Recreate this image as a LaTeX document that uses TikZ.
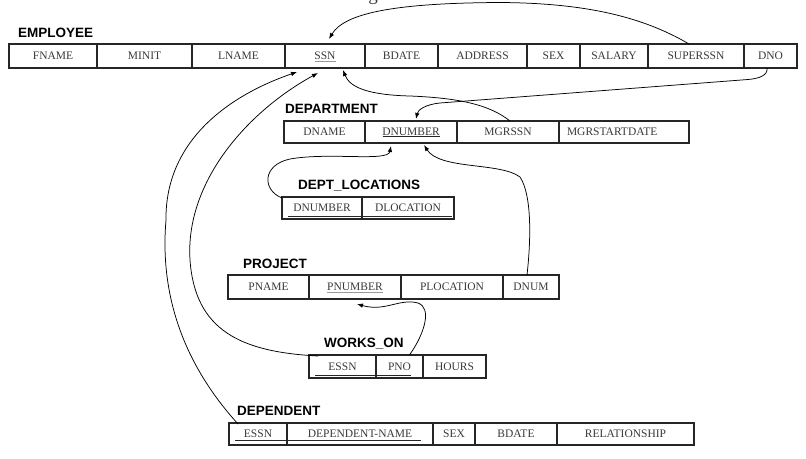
\documentclass[tikz,border=0pt]{standalone}
\usepackage{fontspec}
\setmainfont{Liberation Serif}
\newfontfamily\tabfont{Liberation Sans}
\usetikzlibrary{arrows.meta,calc}
\definecolor{fieldtxt}{HTML}{3A3A3A}
\definecolor{gridline}{HTML}{262626}
\definecolor{keygray}{HTML}{9A9A9A}
\newcommand{\dbcell}[6]{\node[cellbox,minimum width={#3-#2},minimum height={#5-#4}] (#1) at ({(#2+#3)/2},{(#4+#5)/2}) {#6};}
\tikzset{
  cellbox/.style={draw=gridline,line width=1.1pt,inner sep=0pt,outer sep=0pt,text=fieldtxt,
    font=\fontsize{11.5}{12}\selectfont,anchor=center},
  tablabel/.style={anchor=base west,inner sep=0pt,font=\tabfont\bfseries\fontsize{13.5}{14}\selectfont},
  gfrag/.style={anchor=base,inner sep=0pt,text=fieldtxt,font=\fontsize{19}{21}\selectfont},
  keydark/.style={draw=black!85,line width=0.7pt},
  keylight/.style={draw=keygray,line width=0.7pt},
  fk/.style={draw=black,line width=0.75pt,-{Latex[length=6pt,width=4.5pt]}}
}
\begin{document}
\begin{tikzpicture}[x=1pt,y=-1pt]
\useasboundingbox (0,0) rectangle (806,458);
\fill[white] (0,0) rectangle (806,458);
\node[gfrag] (titleg) at (373,0) {g};

% EMPLOYEE
\node[tablabel] (lab-emp) at (18,37) {EMPLOYEE};
\dbcell{e-fname}{9}{97}{44}{68}{FNAME}
\dbcell{e-minit}{97}{192}{44}{68}{MINIT}
\dbcell{e-lname}{192}{285}{44}{68}{LNAME}
\dbcell{e-ssn}{285}{365}{44}{68}{SSN}
\dbcell{e-bdate}{365}{438}{44}{68}{BDATE}
\dbcell{e-address}{438}{527}{44}{68}{ADDRESS}
\dbcell{e-sex}{527}{580}{44}{68}{SEX}
\dbcell{e-salary}{580}{648}{44}{68}{SALARY}
\dbcell{e-superssn}{648}{744}{44}{68}{SUPERSSN}
\dbcell{e-dno}{744}{797}{44}{68}{DNO}
\draw[keylight] (314.5,61.5) -- (335.5,61.5);

% DEPARTMENT
\node[tablabel] (lab-dep) at (285,113) {DEPARTMENT};
\dbcell{d-dname}{284}{365}{121}{143}{DNAME}
\dbcell{d-dnumber}{365}{457}{121}{143}{DNUMBER}
\dbcell{d-mgrssn}{457}{559}{121}{143}{MGRSSN}
\dbcell{d-msd}{559}{689}{121}{143}{}
\node[cellbox,draw=none,anchor=west] (d-msd-t) at (567,132) {MGRSTARTDATE};
\draw[keydark] (382.5,136.5) -- (439.5,136.5);

% DEPT_LOCATIONS
\node[tablabel] (lab-loc) at (298,189) {DEPT\_LOCATIONS};
\dbcell{l-dnumber}{282}{362}{197}{219}{DNUMBER}
\dbcell{l-dlocation}{362}{454}{197}{219}{DLOCATION}
\draw[keydark] (288,216.5) -- (452,216.5);

% PROJECT
\node[tablabel] (lab-proj) at (243,268) {PROJECT};
\dbcell{p-pname}{228}{309}{275}{299}{PNAME}
\dbcell{p-pnumber}{309}{401}{275}{299}{PNUMBER}
\dbcell{p-plocation}{401}{503}{275}{299}{PLOCATION}
\dbcell{p-dnum}{503}{559}{275}{299}{DNUM}
\draw[keylight] (327,292.5) -- (383,292.5);

% WORKS_ON
\node[tablabel] (lab-works) at (324,347) {WORKS\_ON};
\dbcell{w-essn}{309}{376}{355}{378}{ESSN}
\dbcell{w-pno}{376}{423}{355}{378}{PNO}
\dbcell{w-hours}{423}{486}{355}{378}{HOURS}
\draw[keydark] (315,375.5) -- (411,375.5);

% DEPENDENT
\node[tablabel] (lab-dpt) at (237,415) {DEPENDENT};
\dbcell{t-essn}{229}{287}{423}{445}{ESSN}
\dbcell{t-dname}{287}{433}{423}{445}{DEPENDENT-NAME}
\dbcell{t-sex}{433}{475}{423}{445}{SEX}
\dbcell{t-bdate}{475}{557}{423}{445}{BDATE}
\dbcell{t-rel}{557}{694}{423}{445}{RELATIONSHIP}
\draw[keydark] (235,440.5) -- (421,440.5);

% foreign keys
\draw[fk] ($(e-superssn.north)+(-7,0)$) .. controls (640,15) and (580,3) .. (500,2.5)
  .. controls (400,3) and (345,12) .. ($(e-ssn.north)+(4,-5)$);
\draw[fk] ($(e-dno.south)+(-3.5,0)$) .. controls (768,75) and (760,78.5) .. (748,79.5)
  -- (440,103) .. controls (425,104.5) and (418,110) .. ($(d-dnumber.north)+(5,-2)$);
\draw[fk] ($(d-mgrssn.north)+(2,0)$) .. controls (490,105) and (460,98) .. (410,96)
  .. controls (370,95) and (350,88) .. ($(e-ssn.south)+(18,2)$);
\draw[fk] ($(l-dnumber.north west)+(0,1)$) .. controls (262,190) and (262,165) .. (290,159)
  .. controls (330,152) and (388,162) .. ($(d-dnumber.south)+(-20,3)$);
\draw[fk] ($(p-dnum.north)+(-4,0)$) .. controls (531,240) and (532,195) .. (520,177)
  .. controls (500,162) and (440,170) .. ($(d-dnumber.south)+(13,2)$);
\draw[fk] ($(w-pno.north)+(10,0)$) .. controls (425,333) and (432,308) .. (418,303)
  .. controls (400,298) and (385,312) .. ($(p-pnumber.south)+(2,5)$);
\draw[fk] ($(w-essn.north west)+(9,1)$) .. controls (240,352) and (195,330) .. (190,260)
  .. controls (185,180) and (250,110) .. ($(e-ssn.south)+(-7,5)$);
\draw[fk] ($(t-essn.north west)+(9,1)$) .. controls (180,360) and (160,290) .. (166,220)
  .. controls (165,140) and (230,95) .. ($(e-ssn.south)+(-28,4)$);
\end{tikzpicture}
\end{document}
